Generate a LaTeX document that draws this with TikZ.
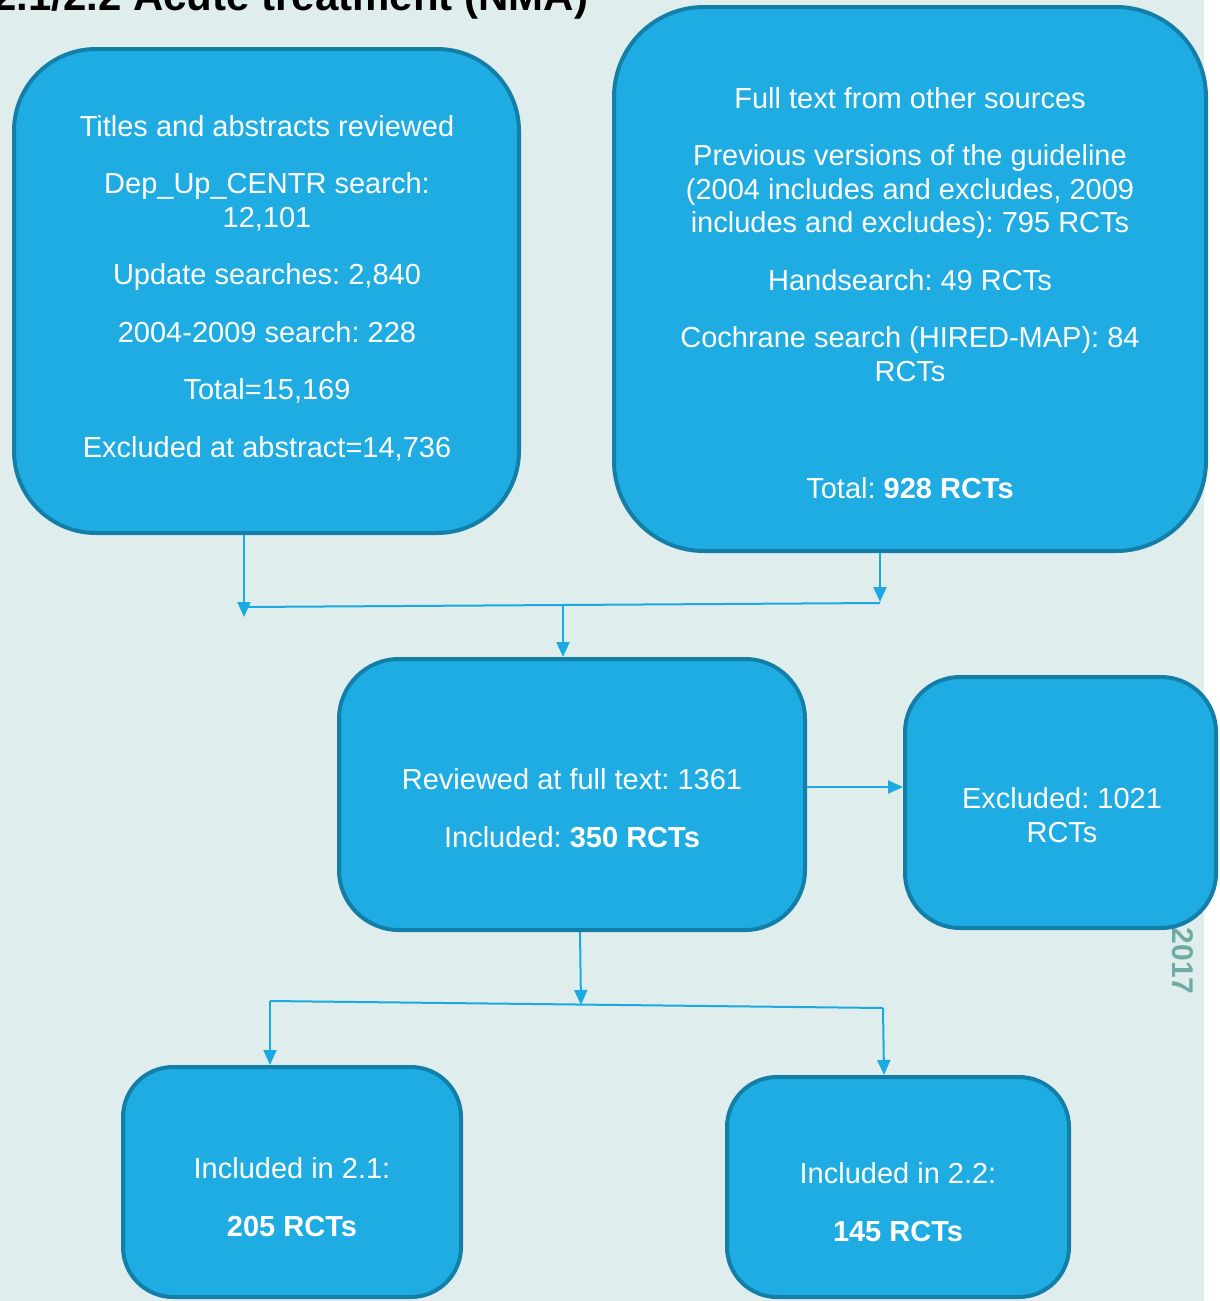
\documentclass[tikz,border=0pt]{standalone}
\usepackage{fontspec}
\setmainfont{Liberation Sans}
\usetikzlibrary{arrows.meta}
\definecolor{bgc}{HTML}{E0EDED}
\definecolor{boxfill}{HTML}{1EACE2}
\definecolor{boxline}{HTML}{137FA8}
\definecolor{arrc}{HTML}{1AA9E1}
\definecolor{yearc}{HTML}{6FAAA5}
\frenchspacing
\tikzset{
  flowbox/.style={draw=boxline, fill=boxfill, line width=4pt, inner sep=0pt},
  boxtext/.style={text=white, align=center, font=\fontsize{29}{33.5}\selectfont\frenchspacing, inner sep=0pt},
  conn/.style={draw=arrc, line width=2pt},
  arr/.style={conn, -{Triangle[width=13pt,length=15pt]}}
}
\begin{document}
\begin{tikzpicture}[x=1pt,y=-1pt]
\useasboundingbox (0,0) rectangle (1219,1301);
\fill[bgc] (0,0) rectangle (1204,1301);
\node[anchor=base west, font=\fontsize{42}{48}\selectfont\bfseries, inner sep=0pt] (title) at (-7,10) {2.1/2.2 Acute treatment (NMA)};
\node[rotate=-90, text=yearc, font=\fontsize{30}{34}\selectfont\bfseries, inner sep=0pt] (year) at (1183,961) {2017};

% boxes
\node[flowbox, rounded corners=82pt, minimum width=505pt, minimum height=484pt] (A) at (266.5,291) {};
\node[flowbox, rounded corners=90pt, minimum width=592pt, minimum height=544pt] (B) at (910,279) {};
\node[flowbox, rounded corners=60pt, minimum width=466pt, minimum height=271pt] (C) at (572,794.5) {};
\node[flowbox, rounded corners=55pt, minimum width=311pt, minimum height=251pt] (D) at (1060.5,802.5) {};
\node[flowbox, rounded corners=50pt, minimum width=338pt, minimum height=230pt] (E) at (292,1182) {};
\node[flowbox, rounded corners=50pt, minimum width=342pt, minimum height=220pt] (F) at (898,1187) {};

% texts
\node[boxtext] (tA) at (267,288) {Titles and abstracts reviewed\\[24pt]
Dep\_Up\_CENTR search:\\12,101\\[24pt]
Update searches: 2,840\\[24pt]
2004-2009 search: 228\\[24pt]
Total=15,169\\[24pt]
Excluded at abstract=14,736};
\node[boxtext] (tB) at (910,293) {Full text from other sources\\[24pt]
Previous versions of the guideline\\(2004 includes and excludes, 2009\\includes and excludes): 795 RCTs\\[24pt]
Handsearch: 49 RCTs\\[24pt]
Cochrane search (HIRED-MAP): 84\\RCTs\\[83.5pt]
Total: \textbf{928 RCTs}};
\node[boxtext] (tC) at (572,808) {Reviewed at full text: 1361\\[24pt]Included: \textbf{350 RCTs}};
\node[boxtext] (tD) at (1062,815) {Excluded: 1021\\RCTs};
\node[boxtext] (tE) at (292,1197) {Included in 2.1:\\[24pt]\textbf{205 RCTs}};
\node[boxtext] (tF) at (898,1202) {Included in 2.2:\\[24pt]\textbf{145 RCTs}};

% junction coordinates
\coordinate (jL) at (244,607);
\coordinate (jR) at (880,603);
\coordinate (jM) at (563,606);
\coordinate (tipL) at (244,617);
\coordinate (tipR) at (880,602);
\coordinate (kC) at (581,1005);
\coordinate (kL) at (270,1001);
\coordinate (kR) at (883,1008);
\coordinate (hC) at (808,787);

% connectors
\draw[arr] (A.south -| tipL) -- (tipL);
\draw[arr] (B.south -| tipR) -- (tipR);
\draw[conn] (jL) -- (jR);
\draw[arr] (jM) -- (C.north -| jM);
\draw[arr] (C.south -| kC) ++(-1,0) -- (kC);
\draw[conn] (kL) -- (kR);
\draw[arr] (kL) -- (E.north -| kL);
\draw[arr] (kR) -- ([xshift=1pt]F.north -| kR);
\draw[arr] (C.east |- hC) -- (D.west |- hC);
\end{tikzpicture}
\end{document}
